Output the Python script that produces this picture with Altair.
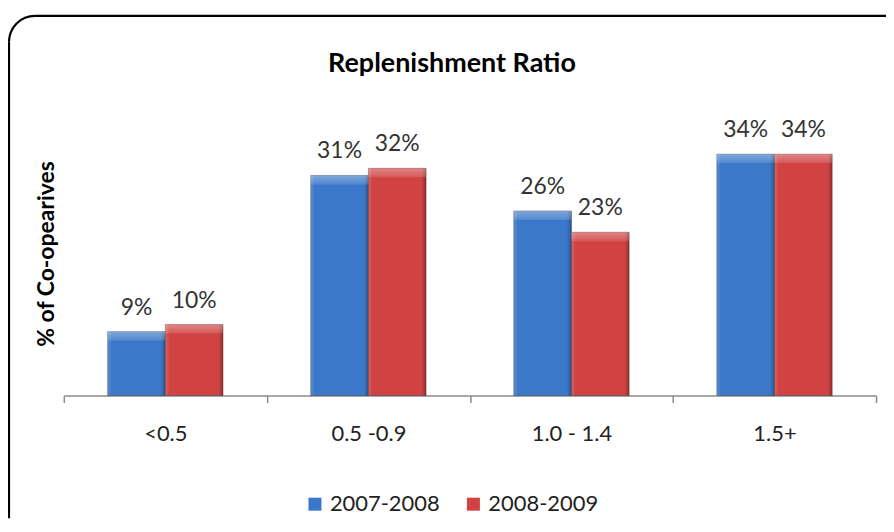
import altair as alt
import pandas as pd
import math

# ---- data ----
categories = ["<0.5", "0.5 -0.9", "1.0 - 1.4", "1.5+"]
series_names = ["2007-2008", "2008-2009"]
values_2007 = [9, 31, 26, 34]
values_2008 = [10, 32, 23, 34]
series_colors = ["#3b78c9", "#d04342"]

rows = []
for s, vals in zip(series_names, [values_2007, values_2008]):
    for c, v in zip(categories, vals):
        rows.append({"category": c, "series": s, "value": v, "label": f"{v}%"})
df = pd.DataFrame(rows)

FONT = "Lato"
W, H = 815, 285
PAD = {"left": 56, "top": 103, "right": 10, "bottom": 124}

x = alt.X(
    "category:N", sort=categories,
    scale=alt.Scale(paddingInner=0, paddingOuter=0),
    axis=alt.Axis(title=None, domainColor="#8a8a8a", tickColor="#8a8a8a", tickSize=7,
                  tickBand="extent", domainWidth=1.5, tickWidth=1.5,
                  labelFontSize=22, labelFont=FONT, labelColor="#222222",
                  labelPadding=21, labelAngle=0, grid=False),
)
xo = alt.XOffset("series:N", sort=series_names,
                 scale=alt.Scale(paddingInner=0, paddingOuter=0.76))
y = alt.Y(
    "value:Q", scale=alt.Scale(domain=[0, 40], nice=False),
    axis=alt.Axis(title="% of Co-opearives", labels=False, ticks=False, domain=False,
                  grid=False, titleFont=FONT, titleFontSize=23, titleFontWeight="bold",
                  titleColor="#000000", titlePadding=5),
)

base = alt.Chart(df)

bars = base.mark_bar(stroke="rgba(0,0,0,0.3)", strokeWidth=1).encode(
    x=x, xOffset=xo, y=y,
    color=alt.Color("series:N", sort=series_names,
                    scale=alt.Scale(domain=series_names, range=series_colors),
                    legend=alt.Legend(orient="none", legendX=241, legendY=383,
                                      direction="horizontal", title=None,
                                      symbolType="square", symbolSize=170,
                                      symbolStrokeWidth=0,
                                      labelFontSize=22, labelFont=FONT,
                                      labelColor="#222222", columnPadding=22)),
)

side_shade = base.mark_bar(
    fill=alt.LinearGradient(
        gradient="linear", x1=0, x2=1, y1=0, y2=0,
        stops=[alt.GradientStop(offset=0, color="rgba(255,255,255,0.18)"),
               alt.GradientStop(offset=0.07, color="rgba(255,255,255,0)"),
               alt.GradientStop(offset=0.92, color="rgba(0,0,0,0)"),
               alt.GradientStop(offset=1, color="rgba(0,0,0,0.28)")]),
).encode(x=x, xOffset=xo, y=y)

top_bevel = base.mark_bar(
    y2Offset=9,
    fill=alt.LinearGradient(
        gradient="linear", x1=0, x2=0, y1=0, y2=1,
        stops=[alt.GradientStop(offset=0, color="rgba(255,255,255,0.35)"),
               alt.GradientStop(offset=1, color="rgba(255,255,255,0.12)")]),
).encode(x=x, xOffset=xo, y=y, y2="value:Q")

labels = base.mark_text(baseline="alphabetic", dy=-17, fontSize=23, font=FONT,
                        color="#333333").encode(x=x, xOffset=xo, y=y, text="label:N")

# ---- rounded frame (left and top edges only; the rest lies outside the crop) ----
one = alt.Chart(pd.DataFrame({"a": [0]}))
R = 26
LEFT, TOP = -55, -96
BOTTOM = H + PAD["bottom"] - 1
RIGHT = W + PAD["right"]
frame_top = one.mark_rule(stroke="#000000", strokeWidth=2.2).encode(
    x=alt.value(LEFT + R), x2=alt.value(RIGHT), y=alt.value(TOP))
frame_left = one.mark_rule(stroke="#000000", strokeWidth=2.2).encode(
    x=alt.value(LEFT), y=alt.value(TOP + R), y2=alt.value(BOTTOM))
frame_corner = one.mark_arc(fill="#000000", innerRadius=R - 1.1, outerRadius=R + 1.1,
                            theta=1.5 * math.pi, theta2=2 * math.pi).encode(
    x=alt.value(LEFT + R), y=alt.value(TOP + R))

chart = alt.layer(frame_top, frame_left, frame_corner, bars, side_shade, top_bevel,
                  labels).properties(
    width=W, height=H,
    padding=PAD,
    background="white",
    autosize=alt.AutoSizeParams(type="none"),
    title=alt.Title("Replenishment Ratio", font=FONT, fontSize=27, fontWeight="bold",
                    color="#000000", anchor="middle", baseline="alphabetic",
                    offset=-84, dx=-18),
).configure_view(strokeWidth=0, stroke="transparent")

chart.save("out.html", embed_options={"renderer": "svg", "actions": False})
